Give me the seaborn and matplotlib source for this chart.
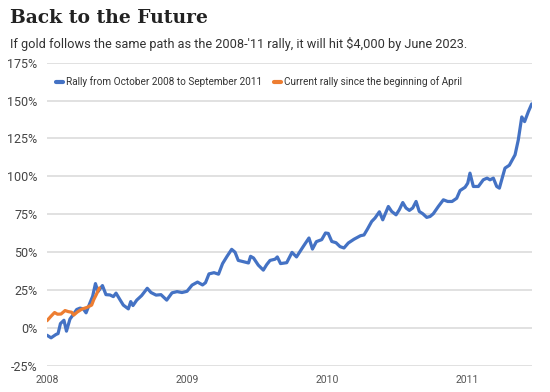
import pandas as pd
import matplotlib.pyplot as plt
import seaborn as sns

# years since Jan 2008 and gain in %
rally_x = [0.000, 0.029, 0.064, 0.079, 0.096, 0.121, 0.139, 0.164, 0.188, 0.212,
           0.236, 0.259, 0.279, 0.307, 0.326, 0.346, 0.364, 0.396, 0.421, 0.450,
           0.474, 0.493, 0.521, 0.545, 0.581, 0.598, 0.614, 0.641, 0.676, 0.716,
           0.743, 0.779, 0.814, 0.855, 0.893, 0.929, 0.964, 1.000, 1.036, 1.075,
           1.111, 1.132, 1.157, 1.193, 1.225, 1.254, 1.286, 1.319, 1.343, 1.366,
           1.418, 1.439, 1.454, 1.475, 1.509, 1.545, 1.569, 1.593, 1.629, 1.645,
           1.668, 1.712, 1.750, 1.782, 1.831, 1.871, 1.896, 1.924, 1.962, 1.989,
           2.009, 2.034, 2.064, 2.093, 2.121, 2.152, 2.193, 2.239, 2.264, 2.289,
           2.319, 2.343, 2.374, 2.398, 2.438, 2.462, 2.493, 2.516, 2.541, 2.564,
           2.588, 2.612, 2.636, 2.659, 2.684, 2.712, 2.736, 2.759, 2.795, 2.831,
           2.862, 2.893, 2.926, 2.950, 2.986, 3.005, 3.021, 3.045, 3.081, 3.116,
           3.143, 3.164, 3.188, 3.212, 3.231, 3.271, 3.302, 3.343, 3.366, 3.391,
           3.411, 3.438, 3.462]
rally_y = [-4.9, -6.6, -4.4, -3.8, 2.8, 5.0, -2.2, 5.8, 8.8, 12.1,
           13.0, 12.5, 9.9, 16.5, 20.8, 29.2, 23.9, 27.9, 21.9, 21.7,
           20.6, 22.9, 18.6, 15.0, 12.5, 17.3, 14.7, 18.3, 21.3, 26.1,
           23.3, 21.6, 21.9, 18.3, 23.1, 23.9, 23.3, 24.1, 28.2, 30.2,
           28.3, 29.8, 35.6, 36.4, 35.4, 42.4, 47.2, 51.8, 49.9, 44.5,
           43.3, 42.8, 47.2, 46.1, 41.4, 38.1, 41.7, 44.5, 45.3, 46.8,
           42.4, 43.0, 49.8, 46.8, 53.8, 59.3, 52.0, 56.9, 58.2, 62.6,
           62.3, 57.0, 56.2, 53.6, 52.7, 56.0, 58.5, 60.8, 61.3, 65.2,
           70.2, 72.5, 76.6, 71.3, 80.1, 76.8, 74.6, 77.9, 82.7, 79.1,
           77.5, 79.1, 83.4, 76.8, 75.3, 72.9, 73.5, 75.3, 80.1, 84.5,
           83.4, 83.4, 85.5, 90.6, 92.8, 95.5, 102.1, 93.3, 93.3, 97.7,
           98.8, 97.7, 98.8, 93.3, 92.2, 105.4, 107.3, 114.2, 124.0, 139.2,
           136.1, 142.7, 147.8]

current_x = [0.000, 0.029, 0.054, 0.075, 0.100, 0.129, 0.152, 0.176, 0.191, 0.216,
             0.248, 0.286, 0.319, 0.334, 0.352, 0.374]
current_y = [4.7, 7.7, 10.1, 9.0, 9.1, 11.4, 10.7, 10.3, 8.4, 10.4,
             12.3, 13.5, 15.0, 18.6, 21.9, 26.3]

year_ticks = [0, 1, 2, 3]
year_labels = ["2008", "2009", "2010", "2011"]
pct_ticks = [-25, 0, 25, 50, 75, 100, 125, 150, 175]

rally_name = "Rally from October 2008 to September 2011"
current_name = "Current rally since the beginning of April"

df = pd.concat([
    pd.DataFrame({"t": rally_x, "gain": rally_y, "series": rally_name}),
    pd.DataFrame({"t": current_x, "gain": current_y, "series": current_name}),
])

sns.set_style("white")
plt.rcParams["font.family"] = ["Roboto", "DejaVu Sans"]

fig = plt.figure(figsize=(5.5, 3.92), dpi=100)
ax = fig.add_axes([47 / 550, 1 - 365.7 / 392, 485 / 550, 303 / 392])

sns.lineplot(
    data=df, x="t", y="gain", hue="series", ax=ax,
    palette={rally_name: "#4472C4", current_name: "#ED7D31"},
    linewidth=2.3, sort=False,
)

ax.set_xlim(0, 3.464)
ax.set_ylim(-25, 175)
ax.set_yticks(pct_ticks)
ax.set_yticklabels([f"{v}%" for v in pct_ticks], fontsize=9, color="#444444")
ax.set_xticks(year_ticks)
ax.set_xticklabels(year_labels, fontsize=7.5, color="#555555")
ax.tick_params(axis="both", length=0)
ax.tick_params(axis="y", pad=7)
ax.tick_params(axis="x", pad=7)
ax.grid(axis="y", color="#dcdcdc", linewidth=1.2)
ax.set_axisbelow(True)
for s in ax.spines.values():
    s.set_visible(False)
ax.set_xlabel("")
ax.set_ylabel("")

leg = ax.legend(
    loc="upper left", bbox_to_anchor=(0.0, 0.985), ncol=2, frameon=False,
    handlelength=0.7, handletextpad=0.3, columnspacing=1.2,
    prop={"size": 7.2},
)
for t in leg.get_texts():
    t.set_color("#333333")
for h in leg.get_lines():
    h.set_linewidth(3)

fig.text(10 / 550, 1 - 9 / 392, "Back to the Future", fontsize=13.5, fontweight="bold",
         family=["DejaVu Serif"], color="#222222", va="top")
fig.text(10 / 550, 1 - 37 / 392,
         "If gold follows the same path as the 2008-'11 rally, it will hit $4,000 by June 2023.",
         fontsize=9.2, color="#333333", va="top")

fig.savefig("out.png", dpi=100)
